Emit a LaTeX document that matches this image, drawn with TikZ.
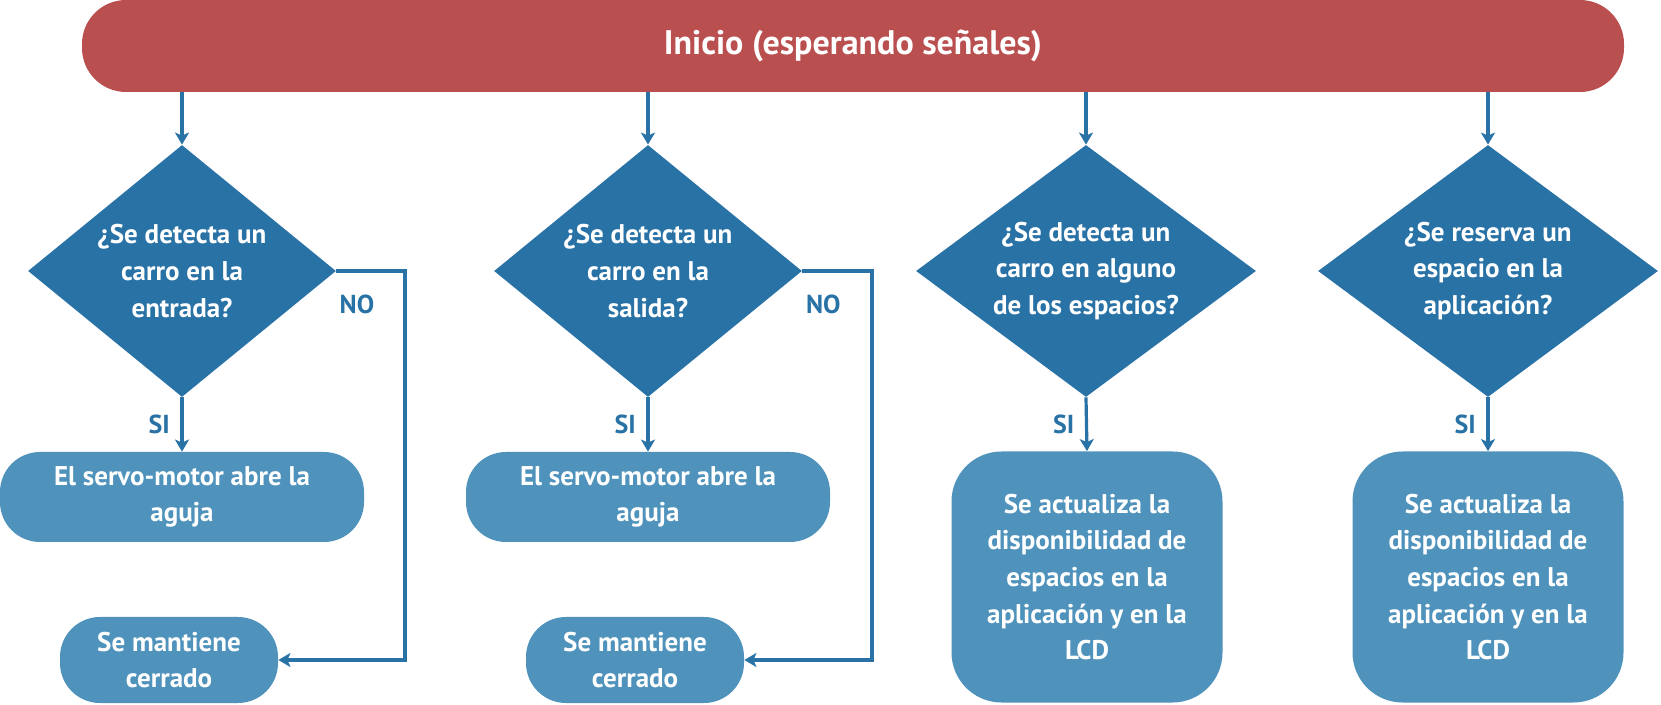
\documentclass[tikz,border=0pt]{standalone}
\usepackage{fontspec}
\setmainfont{PT Sans}
\usepackage{xcolor}
\usetikzlibrary{shapes.geometric,arrows.meta}

\definecolor{inired}{RGB}{186,79,80}
\definecolor{dblue}{RGB}{41,114,166}
\definecolor{lblue}{RGB}{79,147,188}

\tikzset{
    startbox/.style={rectangle, rounded corners=22pt, fill=inired, text=white,
        minimum width=771pt, minimum height=46pt, font=\fontsize{17}{20}\selectfont\bfseries},
    decision/.style={diamond, shape aspect=1.22, fill=dblue, text=white, inner sep=0pt, align=center,
        minimum width=154pt, minimum height=126pt, font=\fontsize{13.5}{18.3}\selectfont\bfseries},
    procbox/.style={rectangle, rounded corners=20pt, fill=lblue, text=white, align=center,
        inner sep=0pt, font=\fontsize{13.5}{18.3}\selectfont\bfseries},
    flow/.style={dblue, line width=1.6pt, -{Stealth[length=6pt,width=7pt,inset=1.5pt]}},
    answer/.style={text=dblue, font=\fontsize{13}{15}\selectfont\bfseries}
}

\begin{document}
\begin{tikzpicture}[x=0.5pt, y=-0.5pt]
        \useasboundingbox (0,0) rectangle (1661,705);

        \node[startbox] (inicio) at (853,46) {Inicio (esperando señales)};

        \node[decision] (d1) at (182,271) {¿Se detecta un\\carro en la\\entrada?};
        \node[decision] (d2) at (648,271) {¿Se detecta un\\carro en la\\salida?};
        \node[decision, shape aspect=1.35, minimum width=170pt] (d3) at (1086,271) {¿Se detecta un\\carro en alguno\\de los espacios?};
        \node[decision, shape aspect=1.35, minimum width=170pt] (d4) at (1488,271) {¿Se reserva un\\espacio en la\\aplicación?};

        \node[procbox, minimum width=182pt, minimum height=45pt] (b1) at (182,497) {El servo-motor abre la\\aguja};
        \node[procbox, minimum width=182pt, minimum height=45pt] (b2) at (648,497) {El servo-motor abre la\\aguja};
        \node[procbox, rounded corners=25pt, minimum width=135.5pt, minimum height=125.5pt] (b3) at (1087,577)
            {Se actualiza la\\disponibilidad de\\espacios en la\\aplicación y en la\\LCD};
        \node[procbox, rounded corners=25pt, minimum width=135.5pt, minimum height=125.5pt] (b4) at (1488,577)
            {Se actualiza la\\disponibilidad de\\espacios en la\\aplicación y en la\\LCD};

        \node[procbox, minimum width=109pt, minimum height=43pt] (m1) at (169,660) {Se mantiene\\cerrado};
        \node[procbox, minimum width=109pt, minimum height=43pt] (m2) at (635,660) {Se mantiene\\cerrado};

        \coordinate (no1) at (405,271);
        \coordinate (no2) at (872,271);

        % from the start bar down to every question
        \foreach \d in {d1,d2,d3,d4}
            \draw[flow] (inicio.south -| \d.north) -- (\d.north);

        \draw[flow] (d1.south) -- node[answer, left=2pt]{SI} (b1.north);
        \draw[flow] (d2.south) -- node[answer, left=2pt]{SI} (b2.north);
        \draw[flow] (d3.south) -- node[answer, left=2pt]{SI} (b3.north);
        \draw[flow] (d4.south) -- node[answer, left=2pt]{SI} (b4.north);

        \draw[flow] (d1.east) -- node[answer, below=8pt, pos=0.3]{NO} (no1) |- (m1.east);
        \draw[flow] (d2.east) -- node[answer, below=8pt, pos=0.3]{NO} (no2) |- (m2.east);

    \end{tikzpicture}
\end{document}
